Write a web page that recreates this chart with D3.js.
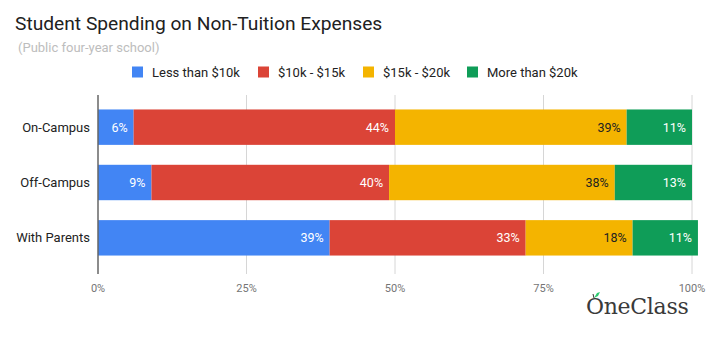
<!DOCTYPE html>
<html><head><meta charset="utf-8">
<script src="https://cdn.jsdelivr.net/npm/d3@7"></script>
<style>body{margin:0;background:#fff;font-family:Roboto,"Noto Sans",sans-serif;}</style>
</head><body><svg id="c" width="712" height="338"></svg>
<script>
const categories = ["On-Campus", "Off-Campus", "With Parents"];
const seriesNames = ["Less than $10k", "$10k - $15k", "$15k - $20k", "More than $20k"];
const lessThan10k = [6, 9, 39];
const from10kTo15k = [44, 40, 33];
const from15kTo20k = [39, 38, 18];
const moreThan20k = [11, 13, 11];
const tickValues = [0, 25, 50, 75, 100];
const colors = ["#4285F4", "#DB4437", "#F4B400", "#0F9D58"];
const labelColors = ["#fff", "#fff", "#222", "#fff"];

const series = [lessThan10k, from10kTo15k, from15kTo20k, moreThan20k];
const svg = d3.select("#c");

svg.append("text").attr("x", 15).attr("y", 30).attr("font-size", 19.2).attr("fill", "#212121").text("Student Spending on Non-Tuition Expenses");
svg.append("text").attr("x", 18).attr("y", 52).attr("font-size", 13).attr("fill", "#bdbdbd").text("(Public four-year school)");

const x = d3.scaleLinear().domain([0, 100]).range([98, 692]);
const y = d3.scaleBand().domain(categories).range([99.5, 265.5]).paddingInner(0.36).paddingOuter(0.18);

// gridlines
svg.append("g").selectAll("line").data(tickValues.slice(1)).join("line")
  .attr("x1", d => x(d)).attr("x2", d => x(d)).attr("y1", 95).attr("y2", 274)
  .attr("stroke", "#d6d6d6").attr("stroke-width", 1);

// bars
categories.forEach((cat, i) => {
  let acc = 0;
  series.forEach((s, j) => {
    const v = s[i];
    const x0 = x(acc), x1 = x(acc + v);
    svg.append("rect").attr("x", x0).attr("y", y(cat)).attr("width", x1 - x0).attr("height", y.bandwidth()).attr("fill", colors[j]);
    svg.append("text").attr("x", x1 - 6).attr("y", y(cat) + y.bandwidth() / 2 + 4.5)
      .attr("text-anchor", "end").attr("font-size", 12.5).attr("fill", labelColors[j]).text(v + "%");
    acc += v;
  });
});

// axis line
svg.append("line").attr("x1", x(0)).attr("x2", x(0)).attr("y1", 95).attr("y2", 274).attr("stroke", "#666").attr("stroke-width", 1.5);

// y labels
svg.append("g").selectAll("text").data(categories).join("text")
  .attr("x", 90).attr("y", d => y(d) + y.bandwidth() / 2 + 4.5).attr("text-anchor", "end")
  .attr("font-size", 13).attr("fill", "#222").text(d => d);

// x tick labels
svg.append("g").selectAll("text").data(tickValues).join("text")
  .attr("x", d => x(d)).attr("y", 292).attr("text-anchor", "middle")
  .attr("font-size", 11).attr("fill", "#757575").text(d => d + "%");

// legend
const legendX = [132, 258, 363, 467];
seriesNames.forEach((n, j) => {
  svg.append("rect").attr("x", legendX[j]).attr("y", 66.5).attr("width", 11).attr("height", 11).attr("fill", colors[j]);
  svg.append("text").attr("x", legendX[j] + 20).attr("y", 76.5).attr("font-size", 13).attr("fill", "#222").text(n);
});

// logo
svg.append("text").attr("x", 586).attr("y", 314).attr("font-size", 22).attr("font-family", "'DejaVu Serif', serif").attr("fill", "#3a3a3a").attr("letter-spacing", -0.3).text("OneClass");
svg.append("path").attr("d", "M594,298 L593,294").attr("stroke", "#333").attr("stroke-width", 1);
svg.append("path").attr("d", "M594,298 L597,293 L600,292 L598,296 Z").attr("fill", "#2ecc71");
</script></body></html>
